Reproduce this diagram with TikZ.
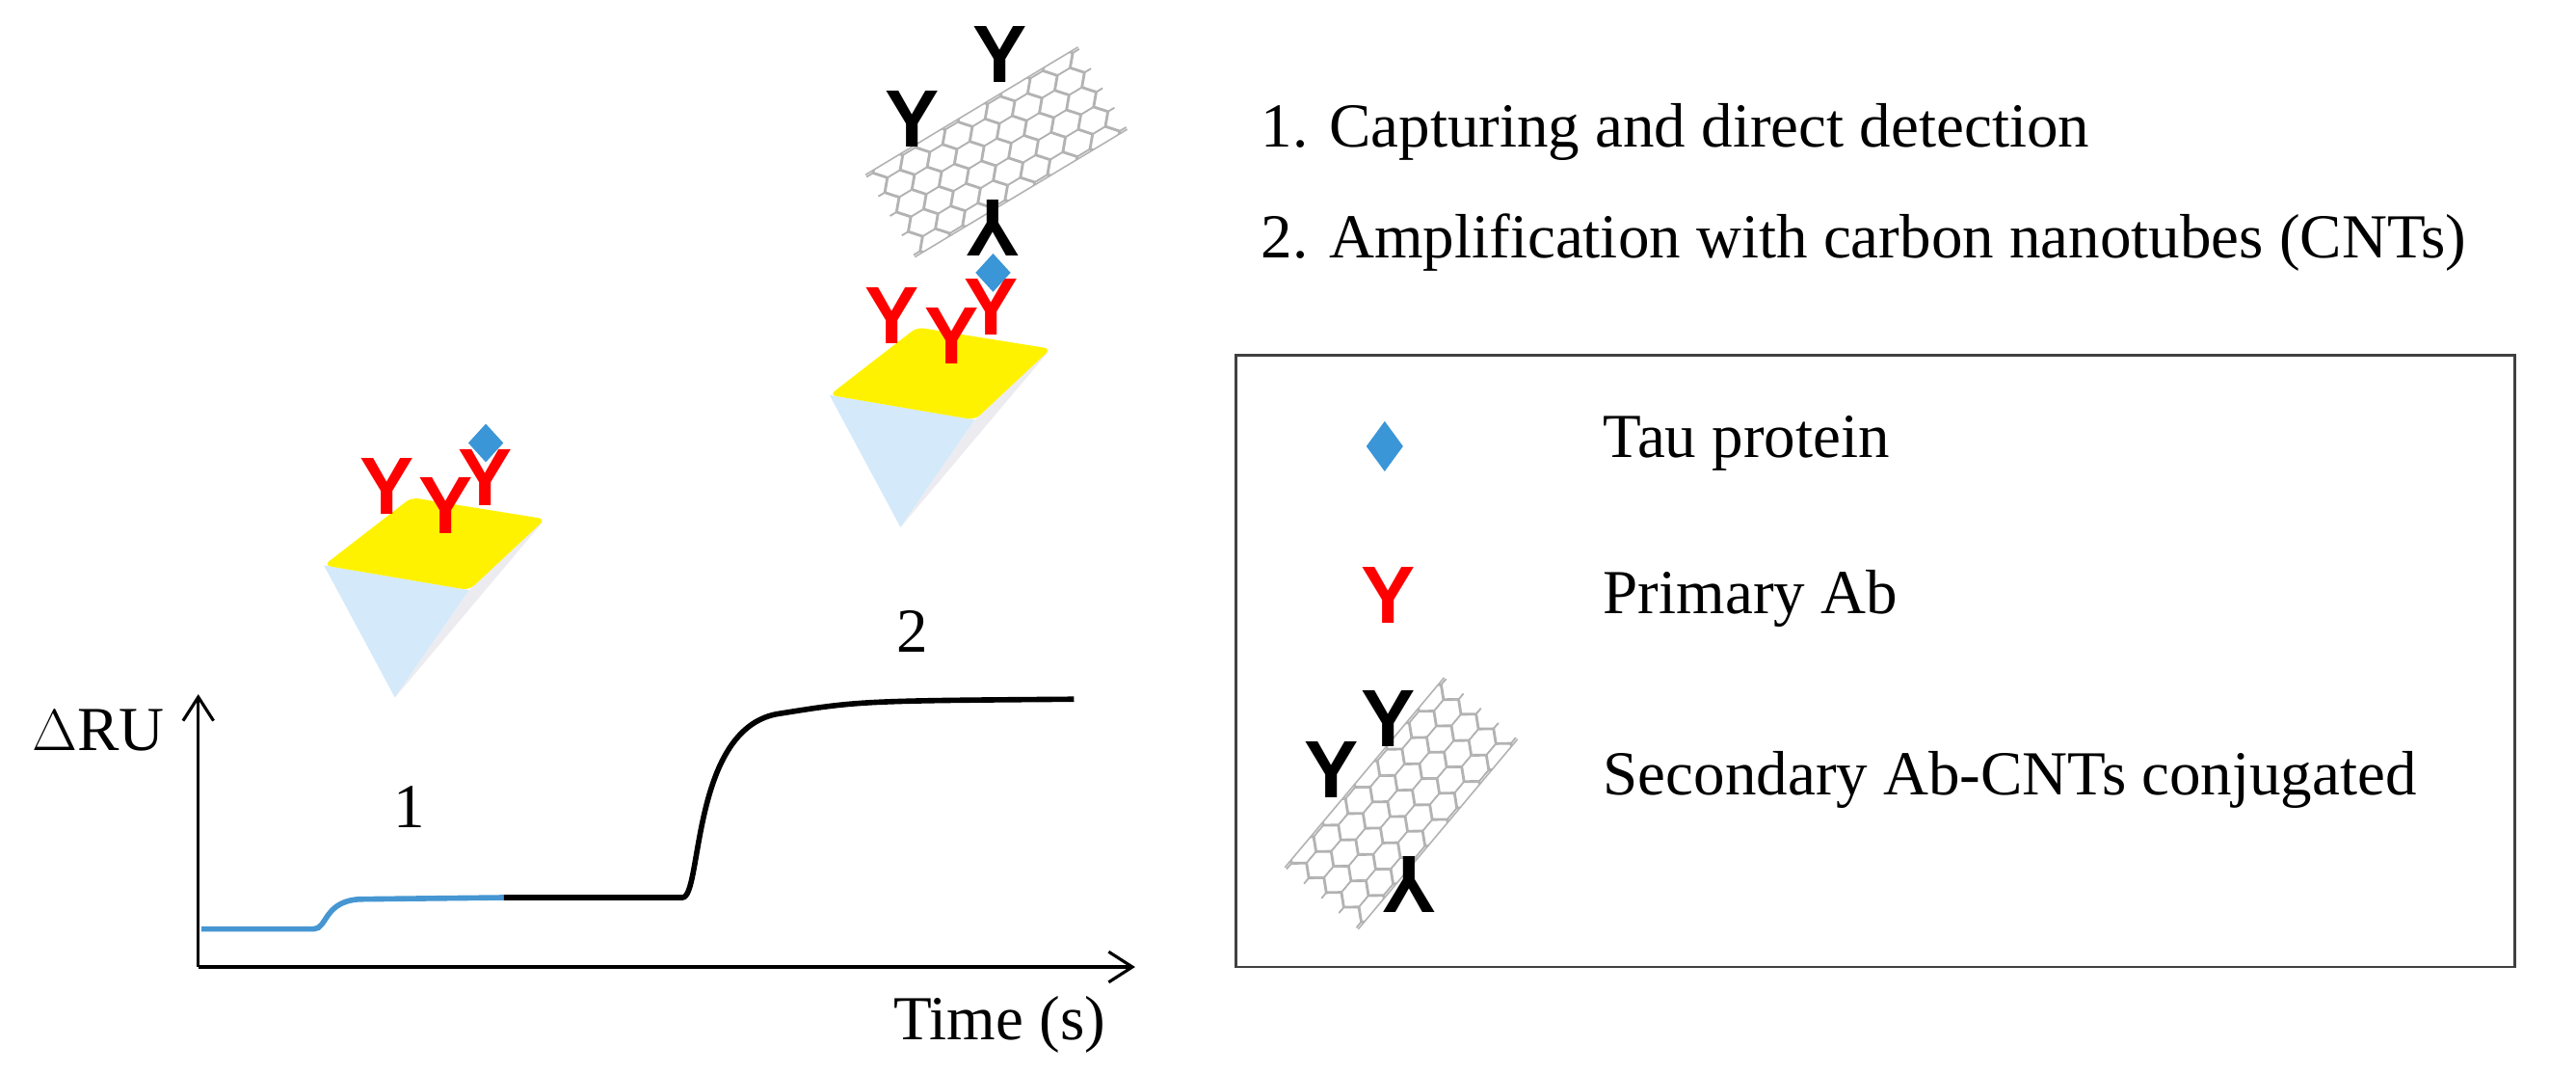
\documentclass[tikz,border=0pt]{standalone}
\usepackage{fontspec}
\setmainfont{Liberation Serif}
\newfontfamily\ysans{Liberation Sans}
\usetikzlibrary{arrows.meta,shapes.geometric}
\tikzset{
  lbl/.style={font=\fontsize{18.5}{22}\selectfont, inner sep=0pt},
  ab/.style={font=\ysans\bfseries\fontsize{24}{26}\selectfont, inner sep=0pt, text=red},
  ab2/.style={font=\ysans\bfseries\fontsize{24}{26}\selectfont, inner sep=0pt, text=black},
  tau/.style={diamond, fill=tauC, minimum width=10.5pt, minimum height=11.5pt, inner sep=0pt, draw=none},
  axis/.style={line width=0.9pt, -{Straight Barb[length=7pt,width=9pt]}},
  pics/prism/.style={code={
    \fill[prismBlue] (196,342) -- (284,357) -- (239,422) -- cycle;
    \fill[prismGray] (284,357) -- (330,314) -- (239,422) -- cycle;
    \fill[yellow, rounded corners=2pt] (196,342) -- (249,301) -- (330,314) -- (284,357) -- cycle;
  }},
  pics/cnt/.style={code={
    \begin{scope}[rotate=#1]
      \clip (-75,-29) rectangle (75,29);
      \foreach \i in {-6,...,6}{
        \foreach \j in {-3,...,3}{
          \pgfmathsetmacro{\cx}{\i*15}
          \pgfmathsetmacro{\cy}{\j*13.8+mod(abs(\i),2)*6.9}
          \draw[gray!60, line width=0.45pt] (\cx,\cy) +(0:10) -- +(60:8) -- +(120:8) -- +(180:10) -- +(240:8) -- +(300:8) -- cycle;
        }
      }
    \end{scope}
    \draw[gray!60, line width=0.45pt, rotate=#1] (-75,-29) -- (75,-29) (-75,29) -- (75,29);
  }}
}
\definecolor{tauC}{RGB}{58,150,215}
\definecolor{prismBlue}{RGB}{212,233,250}
\definecolor{prismGray}{RGB}{236,236,240}
\definecolor{curveBlue}{RGB}{70,150,210}
\begin{document}
\begin{tikzpicture}[x=0.017146cm, y=-0.017146cm]
\useasboundingbox (0,0) rectangle (1559,649);

% axes
\coordinate (O) at (120,585);
\coordinate (Ytop) at (120,420);
\coordinate (Xend) at (687,585);
\draw[axis] (O) -- (Ytop);
\draw[axis] (O) -- (Xend);
\node[lbl, anchor=east] (dru) at (100,442) {$\Delta$RU};
\node[lbl] (time) at (605,620) {Time (s)};
\node[lbl] (n1) at (248,488) {1};
\node[lbl] (n2) at (552,382) {2};

% curves
\draw[curveBlue, line width=1.6pt] (122,562) -- (190,562) .. controls (198,562) and (196,545) .. (218,544) -- (305,543);
\draw[black, line width=1.6pt] (305,543) -- (413,543) .. controls (425,543) and (418,442) .. (470,432) .. controls (520,424) .. (650,423);

% prism 1
\pic at (0,0) {prism};
\node[ab] (p1a) at (234,294) {Y};
\node[ab] (p1b) at (270,306) {Y};
\node[ab] (p1c) at (294,289) {Y};
\node[tau] (t1) at (294,268) {};

% prism 2
\pic at (306,-103) {prism};
\node[ab] (p2a) at (540,191) {Y};
\node[ab] (p2b) at (576,203) {Y};
\node[ab] (p2c) at (600,186) {Y};
\node[tau] (t2) at (601,165) {};

% CNT on top
\pic at (603,92) {cnt=31};
\node[ab2] (c1) at (552,72) {Y};
\node[ab2] (c2) at (605,33) {Y};
\node[ab2, rotate=180] (c3) at (601,138) {Y};

% text
\node[lbl, anchor=west] (s1) at (763,80) {1. Capturing and direct detection};
\node[lbl, anchor=west] (s2) at (763,147) {2. Amplification with carbon nanotubes (CNTs)};

% legend
\draw[line width=0.8pt, black!75] (748,215) rectangle (1522,585);
\node[tau, minimum width=11pt, minimum height=15pt] (lt) at (838,270) {};
\node[lbl, anchor=west] (ltt) at (970,268) {Tau protein};
\node[ab] (ly) at (840,360) {Y};
\node[lbl, anchor=west] (lyt) at (970,362) {Primary Ab};
\pic at (848,486) {cnt=50};
\node[ab2] (lc1) at (806,466) {Y};
\node[ab2] (lc2) at (840,435) {Y};
\node[ab2, rotate=180] (lc3) at (853,535) {Y};
\node[lbl, anchor=west] (lct) at (970,472) {Secondary Ab-CNTs conjugated};
\end{tikzpicture}
\end{document}
